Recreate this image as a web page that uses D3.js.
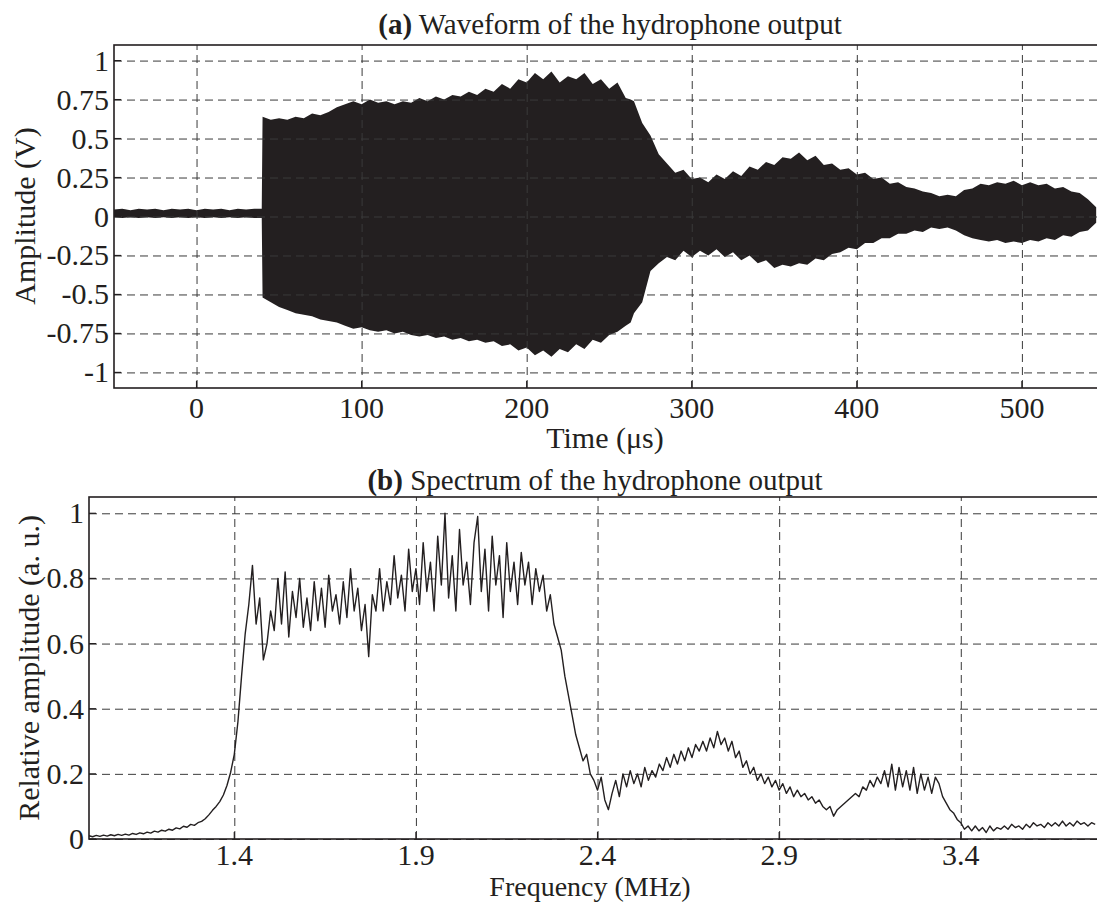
<!DOCTYPE html>
<html>
<head>
<meta charset="utf-8">
<script src="https://cdn.jsdelivr.net/npm/d3@7"></script>
<style>
  body { margin: 0; background: #fff; }
  svg text { font-family: "Liberation Serif", "Times New Roman", serif; fill: #231f20; }
  .grid line { stroke: #3a3a3a; stroke-width: 1; stroke-dasharray: 8 5; }
  .grid path { display: none; }
</style>
</head>
<body>
<div id="chart"></div>
<script>
// ---- (a) waveform envelope (time in us, volts)
var waveT = [-50,-45,-40,-35,-30,-25,-20,-15,-10,-5,0,5,10,15,20,25,30,35,39.5,
  40,45,50,55,60,65,70,75,80,85,90,95,100,105,110,115,120,125,130,135,140,145,150,155,160,165,170,175,180,185,190,195,
  200,205,210,215,220,225,230,235,240,245,250,255,260,263,265,270,275,280,285,290,295,
  300,305,310,315,320,325,330,335,340,345,350,355,360,365,370,375,380,385,390,395,
  400,405,410,415,420,425,430,435,440,445,450,455,460,465,470,475,480,485,490,495,
  500,505,510,515,520,525,530,535,540,545];
var waveHi = [0.045,0.05,0.04,0.05,0.045,0.05,0.04,0.05,0.045,0.05,0.04,0.05,0.045,0.05,0.04,0.05,0.045,0.05,0.05,
  0.64,0.62,0.63,0.62,0.64,0.63,0.66,0.65,0.67,0.70,0.72,0.74,0.72,0.75,0.73,0.74,0.72,0.74,0.73,0.76,0.74,0.77,0.75,0.78,0.77,0.80,0.78,0.82,0.80,0.85,0.82,0.88,
  0.86,0.92,0.88,0.93,0.86,0.90,0.88,0.92,0.85,0.88,0.82,0.86,0.76,0.75,0.74,0.60,0.52,0.40,0.34,0.28,0.30,
  0.24,0.25,0.22,0.27,0.24,0.29,0.26,0.32,0.30,0.35,0.33,0.38,0.37,0.41,0.36,0.39,0.33,0.34,0.30,0.31,
  0.27,0.28,0.24,0.25,0.21,0.22,0.19,0.18,0.16,0.15,0.13,0.14,0.13,0.17,0.18,0.21,0.20,0.22,0.21,0.23,
  0.20,0.22,0.20,0.21,0.18,0.19,0.16,0.15,0.11,0.06];
var waveLo = [-0.005,-0.01,-0.005,-0.01,-0.005,-0.01,-0.005,-0.01,-0.005,-0.01,-0.005,-0.01,-0.005,-0.01,-0.005,-0.01,-0.005,-0.01,-0.01,
  -0.52,-0.55,-0.58,-0.60,-0.62,-0.63,-0.64,-0.66,-0.67,-0.68,-0.70,-0.72,-0.71,-0.73,-0.74,-0.73,-0.75,-0.74,-0.76,-0.77,-0.76,-0.78,-0.77,-0.79,-0.78,-0.80,-0.79,-0.81,-0.80,-0.83,-0.82,-0.86,
  -0.84,-0.89,-0.86,-0.90,-0.85,-0.87,-0.82,-0.85,-0.79,-0.81,-0.76,-0.74,-0.70,-0.68,-0.62,-0.55,-0.35,-0.30,-0.26,-0.28,-0.22,
  -0.26,-0.22,-0.25,-0.21,-0.26,-0.23,-0.28,-0.25,-0.30,-0.28,-0.33,-0.31,-0.32,-0.30,-0.31,-0.27,-0.28,-0.24,-0.23,-0.20,
  -0.21,-0.17,-0.17,-0.14,-0.14,-0.11,-0.11,-0.09,-0.10,-0.07,-0.08,-0.07,-0.09,-0.12,-0.14,-0.15,-0.16,-0.15,-0.17,-0.16,
  -0.17,-0.15,-0.16,-0.14,-0.15,-0.12,-0.13,-0.10,-0.09,-0.04];
var waveXTicks = [0, 100, 200, 300, 400, 500];
var waveYTicks = [-1, -0.75, -0.5, -0.25, 0, 0.25, 0.5, 0.75, 1];

// ---- (b) spectrum, relative amplitude from 1.00 MHz in 0.01 MHz steps
var specStart = 1.0, specStep = 0.01;
var specVals = [
  0.010,0.007,0.011,0.008,0.012,0.009,0.013,0.010,0.014,0.011,
  0.015,0.012,0.017,0.014,0.019,0.016,0.021,0.018,0.024,0.021,
  0.027,0.024,0.030,0.027,0.034,0.031,0.039,0.036,0.045,0.042,
  0.050,0.054,0.062,0.074,0.088,0.100,0.115,0.135,0.165,0.205,
  0.26,0.36,0.50,0.63,0.72,0.84,0.66,0.74,0.55,0.60,
  0.70,0.64,0.80,0.66,0.82,0.62,0.76,0.68,0.80,0.65,
  0.74,0.64,0.79,0.67,0.77,0.65,0.81,0.70,0.75,0.66,
  0.79,0.68,0.83,0.70,0.77,0.64,0.72,0.56,0.75,0.70,
  0.83,0.70,0.79,0.72,0.87,0.74,0.81,0.70,0.89,0.76,
  0.83,0.72,0.91,0.76,0.85,0.70,0.93,0.78,1.00,0.74,
  0.87,0.70,0.95,0.78,0.85,0.72,0.91,0.99,0.76,0.89,
  0.70,0.93,0.78,0.87,0.68,0.91,0.76,0.85,0.72,0.88,
  0.78,0.85,0.72,0.83,0.76,0.81,0.70,0.75,0.66,0.62,
  0.58,0.50,0.44,0.38,0.32,0.28,0.24,0.26,0.20,0.18,
  0.15,0.19,0.12,0.09,0.14,0.18,0.13,0.20,0.16,0.21,
  0.17,0.20,0.16,0.22,0.18,0.21,0.19,0.23,0.21,0.25,
  0.22,0.26,0.23,0.27,0.24,0.28,0.25,0.29,0.27,0.30,
  0.27,0.31,0.28,0.33,0.29,0.31,0.27,0.30,0.25,0.27,
  0.22,0.24,0.20,0.22,0.18,0.20,0.17,0.19,0.16,0.18,
  0.15,0.17,0.14,0.16,0.13,0.15,0.13,0.14,0.12,0.13,
  0.11,0.12,0.10,0.09,0.10,0.07,0.09,0.10,0.11,0.12,
  0.13,0.14,0.13,0.16,0.15,0.18,0.16,0.19,0.17,0.21,
  0.16,0.23,0.15,0.22,0.16,0.21,0.15,0.22,0.14,0.20,
  0.15,0.19,0.14,0.19,0.17,0.13,0.11,0.09,0.08,0.06,
  0.05,0.03,0.04,0.025,0.04,0.025,0.035,0.02,0.04,0.025,
  0.035,0.03,0.04,0.03,0.045,0.035,0.04,0.03,0.045,0.035,
  0.05,0.04,0.045,0.035,0.05,0.04,0.05,0.04,0.055,0.04,
  0.05,0.04,0.055,0.045,0.05,0.04,0.05,0.045];
var specXTicks = [1.4, 1.9, 2.4, 2.9, 3.4];
var specYTicks = [0, 0.2, 0.4, 0.6, 0.8, 1];

var W = 1097, H = 904, ink = "#231f20";

var svg = d3.select("#chart").append("svg")
    .attr("width", W)
    .attr("height", H);

svg.append("rect").attr("width", W).attr("height", H).attr("fill", "white");

// draws one panel: frame, dashed grid, inward ticks, tick labels
function drawFrame(x, y, xTicks, yTicks, xFmt, yFmt, xLabDy) {
    var x0 = x.range()[0], x1 = x.range()[1] + 3,
        y0 = y.range()[0], y1 = y.range()[1];

    svg.append("g").attr("class", "grid")
        .attr("transform", "translate(0," + y0 + ")")
        .call(d3.axisBottom(x).tickValues(xTicks).tickSize(-(y0 - y1)).tickFormat(""));
    svg.append("g").attr("class", "grid")
        .attr("transform", "translate(" + x0 + ",0)")
        .call(d3.axisLeft(y).tickValues(yTicks).tickSize(-(x1 - x0)).tickFormat(""));

    var fr = svg.append("g");
    fr.append("rect")
        .attr("x", x0).attr("y", y1)
        .attr("width", x1 - x0 + 5).attr("height", y0 - y1)
        .attr("fill", "none").attr("stroke", ink).attr("stroke-width", 1.6);

    // inward ticks
    fr.selectAll(".xt").data(xTicks).enter().append("line")
        .attr("x1", d => x(d)).attr("x2", d => x(d))
        .attr("y1", y0).attr("y2", y0 - 7)
        .attr("stroke", ink).attr("stroke-width", 1.2);
    fr.selectAll(".yt").data(yTicks).enter().append("line")
        .attr("x1", x0).attr("x2", x0 + 7)
        .attr("y1", d => y(d)).attr("y2", d => y(d))
        .attr("stroke", ink).attr("stroke-width", 1.2);

    fr.selectAll(".xl").data(xTicks).enter().append("text")
        .attr("x", d => x(d)).attr("y", y0 + xLabDy)
        .attr("text-anchor", "middle")
        .style("font-size", "30px")
        .text(xFmt);
    fr.selectAll(".yl").data(yTicks).enter().append("text")
        .attr("x", x0 - 5).attr("y", d => y(d) + 10)
        .attr("text-anchor", "end")
        .style("font-size", "30px")
        .text(yFmt);
}

function title(cx, cy, bold, rest) {
    var t = svg.append("text")
        .attr("x", cx).attr("y", cy)
        .attr("text-anchor", "middle")
        .style("font-size", "29px");
    t.append("tspan").attr("font-weight", "bold").text(bold);
    t.append("tspan").text(" " + rest);
}

function yLabel(cx, cy, txt) {
    svg.append("text")
        .attr("transform", "translate(" + cx + "," + cy + ") rotate(-90)")
        .attr("text-anchor", "middle")
        .style("font-size", "30px")
        .text(txt);
}

// ---------------- (a) waveform
var xa = d3.scaleLinear().domain([-50, 545.5]).range([114, 1097]);
var ya = d3.scaleLinear().domain([-1.1, 1.1]).range([388, 45]);

svg.append("path")
    .datum(waveT.map((t, i) => ({ t: t, hi: waveHi[i], lo: waveLo[i] })))
    .attr("fill", ink)
    .attr("d", d3.area()
        .x(d => xa(d.t))
        .y0(d => ya(d.lo))
        .y1(d => ya(d.hi)));

drawFrame(xa, ya, waveXTicks, waveYTicks, d => d, d => d, 30);
title(610, 34, "(a)", "Waveform of the hydrophone output");
yLabel(35, 216, "Amplitude (V)");
svg.append("text").attr("x", 605).attr("y", 448)
    .attr("text-anchor", "middle").style("font-size", "30px")
    .text("Time (\u03bcs)");

// ---------------- (b) spectrum
var xb = d3.scaleLinear().domain([1.0, 3.775]).range([89, 1097]);
var yb = d3.scaleLinear().domain([0, 1.05]).range([839, 497]);

drawFrame(xb, yb, specXTicks, specYTicks, d => d.toFixed(1), d => d === 0 || d === 1 ? d : d.toFixed(1), 26);

svg.append("path")
    .datum(specVals.map((v, i) => ({ f: specStart + i * specStep, v: v })))
    .attr("fill", "none")
    .attr("stroke", ink)
    .attr("stroke-width", 1.4)
    .attr("stroke-linejoin", "round")
    .attr("d", d3.line().x(d => xb(d.f)).y(d => yb(d.v)));

title(595, 490, "(b)", "Spectrum of the hydrophone output");
yLabel(39, 668, "Relative amplitude (a. u.)");
svg.append("text").attr("x", 590).attr("y", 896)
    .attr("text-anchor", "middle").style("font-size", "28px")
    .text("Frequency (MHz)");
</script>
</body>
</html>
